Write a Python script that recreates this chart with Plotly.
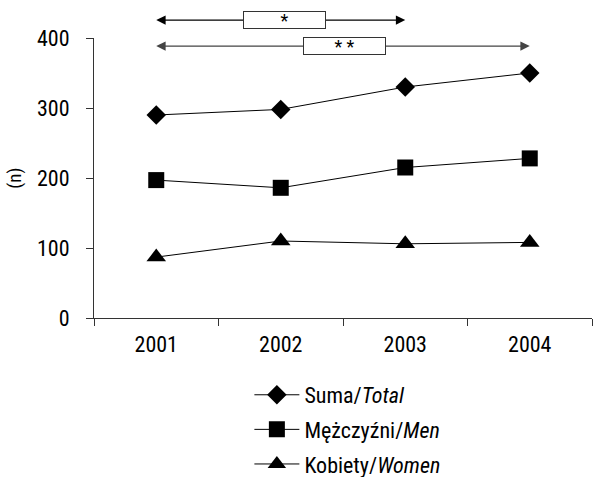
import plotly.graph_objects as go

years = ["2001", "2002", "2003", "2004"]
total = [290, 298, 330, 350]
men = [197, 186, 215, 228]
women = [87, 110, 106, 108]
names = ["Suma/<i>Total</i>", "Mężczyźni/<i>Men</i>", "Kobiety/<i>Women</i>"]
symbols = ["diamond", "square", "triangle-up"]
sizes = [15, 16, 17]
y_ticks = [0, 100, 200, 300, 400]

FONT = "Liberation Sans Narrow, Roboto Condensed, Arial Narrow, sans-serif"

fig = go.Figure()
for i, (vals, nm, sym, sz) in enumerate(zip([total, men, women], names, symbols, sizes)):
    fig.add_trace(go.Scatter(
        x=years, y=vals, name=nm, mode="lines+markers",
        line=dict(color="black", width=1),
        marker=dict(symbol=sym, size=sz, color="black"),
        legendgroup=str(i), cliponaxis=False,
    ))

# significance arrows
arrows = [
    dict(x0=0, x1=2, y=1.064, mid=1.03, text="*", color="black"),
    dict(x0=0, x1=3, y=0.971, mid=1.51, text="* *", color="#444444"),
]
for a in arrows:
    for tip, tail in [(a["x0"], a["mid"]), (a["x1"], a["mid"])]:
        fig.add_annotation(
            x=tip, y=a["y"], xref="x", yref="paper",
            ax=tail, ay=0, axref="x", ayref="pixel",
            text="", showarrow=True, arrowhead=2, arrowsize=1.7,
            arrowwidth=1.1, arrowcolor=a["color"], standoff=0,
        )
    fig.add_annotation(
        x=a["mid"], y=a["y"], xref="x", yref="paper",
        text=a["text"], showarrow=False,
        font=dict(family=FONT, size=18, color="black"),
        bgcolor="white", bordercolor="#333333", borderwidth=1,
        width=79, height=14, xanchor="center", yanchor="middle",
    )

fig.update_layout(
    width=596, height=477,
    margin=dict(l=94, r=4, t=38, b=159),
    plot_bgcolor="white", paper_bgcolor="white",
    font=dict(family=FONT, size=22, color="black"),
    showlegend=True,
    legend=dict(
        x=0.312, y=0.216, xanchor="left", yanchor="top", yref="container",
        font=dict(family=FONT, size=22, color="black"),
        tracegroupgap=3, traceorder="grouped", itemwidth=45,
        bgcolor="rgba(0,0,0,0)",
    ),
    xaxis=dict(
        type="category", range=[-0.5, 3.5], automargin=False,
        showline=True, linecolor="#333333", linewidth=1.2,
        ticks="outside", tickson="boundaries", ticklen=7, tickcolor="#333333",
        showgrid=False, zeroline=False, ticklabelstandoff=6,
    ),
    yaxis=dict(
        range=[0, 400], tickvals=y_ticks, automargin=False,
        showline=True, linecolor="#333333", linewidth=1.2,
        ticks="outside", ticklen=7, tickcolor="#333333",
        showgrid=False, zeroline=False, ticklabelstandoff=12,
        title=dict(text="(n)", standoff=10, font=dict(size=19)),
    ),
)

fig.write_html(
    "out.html",
    config={"displayModeBar": False},
    post_script="document.body.style.margin='0';document.body.style.overflow='hidden';",
)
